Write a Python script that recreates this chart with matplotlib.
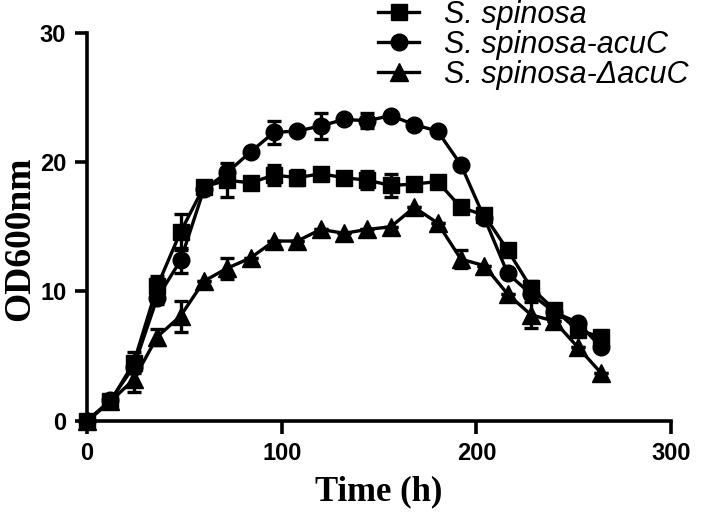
#import libraries
import numpy as np
import matplotlib
matplotlib.use('Agg')
import matplotlib.pyplot as plt
from matplotlib.lines import Line2D

#time points (h)
time_h = [0, 12, 24, 36, 48, 60, 72, 84, 96, 108, 120, 132, 144, 156, 168,
          180, 192, 204, 216, 228, 240, 252, 264]

#OD600 means
od_wt = [0, 1.5, 4.5, 10.4, 14.6, 18.1, 18.6, 18.4, 19.0, 18.8, 19.1, 18.8,
         18.6, 18.2, 18.3, 18.5, 16.5, 15.9, 13.2, 10.3, 8.6, 7.0, 6.5]
od_acuc = [0, 1.6, 4.2, 9.5, 12.4, 17.9, 19.2, 20.8, 22.3, 22.4, 22.8, 23.3,
           23.2, 23.6, 22.9, 22.4, 19.8, 15.7, 11.4, 9.8, 8.4, 7.6, 5.7]
od_del = [0, 1.5, 3.2, 6.5, 8.1, 10.8, 11.8, 12.6, 13.9, 13.9, 14.8, 14.5,
          14.8, 15.0, 16.5, 15.3, 12.5, 12.0, 9.8, 8.2, 7.7, 5.7, 3.7]

#error bars (SD)
err_wt = [0, 0, 0.8, 0.8, 1.4, 0, 1.3, 0, 0.8, 0.6, 0, 0, 0.7, 0.9, 0,
          0, 0, 0, 0, 0.5, 0, 0, 0]
err_acuc = [0, 0, 0, 0.5, 1.0, 0, 0, 0, 0.9, 0, 1.0, 0, 0.6, 0, 0,
            0, 0, 0, 0, 0, 0, 0, 0]
err_del = [0, 0, 1.0, 0.6, 1.2, 0, 0.8, 0, 0, 0, 0, 0, 0, 0, 0,
           0, 0.7, 0, 0, 1.0, 0, 0, 0]

labels = ['S. spinosa', 'S. spinosa-acuC', 'S. spinosa-ΔacuC']
markers = ['s', 'o', '^']
msizes = [11, 12, 13]

fig = plt.figure(figsize=(7.08, 5.12), dpi=100)
ax = fig.add_axes([0.123, 0.178, 0.825, 0.758])

lw = 2.4
common = dict(color='black', linewidth=lw, elinewidth=lw, capsize=5,
              capthick=lw, markeredgecolor='black', markerfacecolor='black',
              clip_on=False)

ax.errorbar(time_h, od_del, yerr=err_del, marker=markers[2], markersize=msizes[2], **common)
ax.errorbar(time_h, od_acuc, yerr=err_acuc, marker=markers[1], markersize=msizes[1], **common)
ax.errorbar(time_h, od_wt, yerr=err_wt, marker=markers[0], markersize=msizes[0], **common)

ax.set_xlim(0, 300)
ax.set_ylim(0, 30)
ax.set_xticks([0, 100, 200, 300])
ax.set_yticks([0, 10, 20, 30])

for s in ['top', 'right']:
    ax.spines[s].set_visible(False)
for s in ['left', 'bottom']:
    ax.spines[s].set_linewidth(2.6)
ax.tick_params(width=2.6, length=9, direction='out', pad=6)
for t in ax.get_xticklabels() + ax.get_yticklabels():
    t.set_fontfamily('Liberation Sans')
    t.set_fontweight('bold')
    t.set_fontsize(17)

ax.set_xlabel('Time (h)', fontfamily='Liberation Serif', fontweight='bold',
              fontsize=25, labelpad=8)
ax.set_ylabel('OD600nm', fontfamily='Liberation Serif', fontweight='bold',
              fontsize=27)
ax.yaxis.set_label_coords(-0.085, 0.47)

#legend without error bars in the handles
handles = [Line2D([], [], color='black', linewidth=lw, marker=m, markersize=ms)
           for m, ms in zip(markers, msizes)]
fig.legend(handles, labels, loc='upper left',
           bbox_to_anchor=(378 / 708, 1.0), frameon=False,
           prop={'family': 'Liberation Sans', 'style': 'italic', 'size': 22},
           handlelength=1.35, handletextpad=0.8, labelspacing=0.0,
           borderpad=0.0, borderaxespad=0.0)

plt.savefig('out.png', dpi=100)
